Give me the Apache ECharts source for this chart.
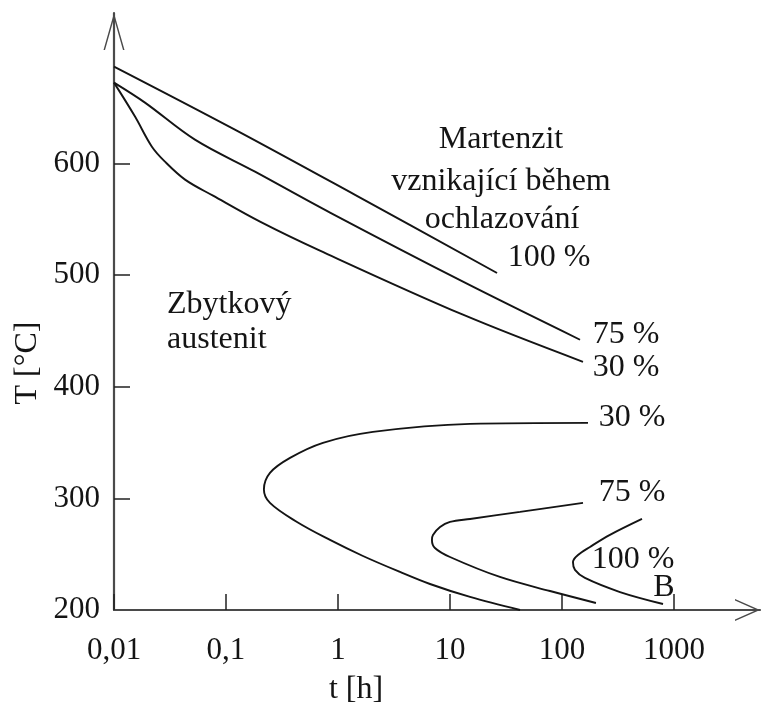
<!DOCTYPE html>
<html>
<head>
<meta charset="utf-8">
<script src="https://cdn.jsdelivr.net/npm/echarts@6/dist/echarts.min.js"></script>
<style>
  html, body { margin: 0; padding: 0; background: #fff; }
  #chart { width: 762px; height: 706px; }
</style>
</head>
<body>
<div id="chart"></div>
<script>
  // axis ticks
  var xTickValues = [0.01, 0.1, 1, 10, 100, 1000];
  var xTickLabels = ['0,01', '0,1', '1', '10', '100', '1000'];
  var yTickValues = [200, 300, 400, 500, 600];

  // martenzit vznikající během ochlazování  [t (h), T (°C)]
  var mart100 = [[0.01, 687], [0.12, 630.5], [1.42, 572], [26.3, 502]];
  var mart75 = [[0.01, 672.6], [0.0189, 654.7], [0.0528, 621.5], [0.1815, 592.8], [0.849, 556.1], [13.06, 494.2], [144.9, 442.2]];
  var mart30 = [[0.01, 672.6], [0.0154, 642.2], [0.0218, 615.2], [0.0285, 601.8], [0.0431, 585.7], [0.0766, 571.3],
                [0.2013, 548.0], [0.69, 522.0], [13.06, 464.6], [154, 422.4]];

  // izotermicke krivky (nosy)
  var bain30 = [[170.6, 367.7], [15.1, 366.8], [2.05, 359.6], [0.734, 349.8], [0.373, 336.3], [0.247, 322.9], [0.218, 308],
                [0.247, 296.0], [0.4306, 278.9], [0.8486, 262.8], [1.671, 248.4], [3.578, 234.1], [6.63, 223.3], [15.1, 211.7], [42.2, 200]];
  var bain75 = [[154, 296.0], [42.2, 287.9], [15.1, 281.6], [10.0, 278.9], [8.15, 274.4], [7.05, 267.3], [6.9, 262.8],
                [7.34, 255.6], [10.0, 247.5], [27.9, 229.6], [78.2, 217.0], [201, 206.3]];
  var bain100 = [[518, 281.6], [268, 267.3], [177.8, 256.5], [139, 249.3], [125.3, 243.0], [130.6, 235.9], [160.3, 228.7],
                 [329.6, 216.1], [798, 205.4]];

  var curves = [mart100, mart75, mart30, bain30, bain75, bain100];

  var FONT = 'Liberation Serif';
  var INK = '#141414';

  var myChart = echarts.init(document.getElementById('chart'));

  var seriesData = [];
  for (var i = 0; i < curves.length; i++) {
    seriesData.push({
      type: 'line',
      data: curves[i],
      showSymbol: false,
      smooth: 0.35,
      lineStyle: { color: INK, width: 1.9 },
      silent: true
    });
  }

  function txt(text, x, y, size, align, rot) {
    return {
      type: 'text',
      x: x,
      y: y,
      rotation: rot || 0,
      style: {
        text: text,
        fill: INK,
        font: size + 'px "' + FONT + '"',
        align: align || 'center',
        verticalAlign: 'middle'
      }
    };
  }

  myChart.setOption({
    animation: false,
    grid: {
      left: 114,
      right: 2,
      top: 13,
      bottom: 96,
      outerBoundsMode: 'none'
    },
    xAxis: {
      type: 'log',
      logBase: 10,
      min: 0.01,
      max: 5861,
      axisLine: {
        show: true,
        symbol: ['none', 'path://M0,0 L11,25 L9.4,25 L0,3.6 L-9.4,25 L-11,25 Z'],
        symbolSize: [22, 25],
        symbolOffset: [0, -12.5],
        lineStyle: { color: '#4a4a4a', width: 2.2 }
      },
      axisTick: {
        show: true,
        inside: true,
        length: 16,
        customValues: xTickValues,
        lineStyle: { color: '#222', width: 1.5 }
      },
      axisLabel: {
        customValues: xTickValues,
        margin: 25,
        color: INK,
        fontFamily: FONT,
        fontSize: 31,
        formatter: function (v) {
          var k = Math.round(Math.log(v) / Math.LN10) + 2;
          return xTickLabels[k];
        }
      },
      splitLine: { show: false }
    },
    yAxis: {
      type: 'value',
      min: 200,
      max: 735,
      interval: 100,
      axisLine: {
        show: true,
        symbol: ['none', 'path://M0,0 L10.5,37 L9,37 L0,5.3 L-9,37 L-10.5,37 Z'],
        symbolSize: [21, 37],
        symbolOffset: [0, -18.5],
        lineStyle: { color: '#4a4a4a', width: 2.2 }
      },
      axisTick: {
        show: true,
        inside: true,
        length: 16,
        customValues: [300, 400, 500, 600],
        lineStyle: { color: '#222', width: 1.5 }
      },
      axisLabel: {
        customValues: yTickValues,
        margin: 14,
        color: INK,
        fontFamily: FONT,
        fontSize: 31
      },
      splitLine: { show: false }
    },
    graphic: [
      txt('Martenzit', 501, 140, 32),
      txt('vznikající během', 501, 182, 32),
      txt('ochlazování', 502, 220, 32),
      txt('100 %', 549, 258, 32),
      txt('75 %', 626, 335, 32),
      txt('30 %', 626, 368, 32),
      txt('30 %', 632, 418, 32),
      txt('75 %', 632, 493, 32),
      txt('100 %', 633, 560, 32),
      txt('B', 664, 588, 32),
      txt('Zbytkový', 167, 305, 32, 'left'),
      txt('austenit', 167, 340, 32, 'left'),
      txt('T [°C]', 28, 363, 32, 'center', Math.PI / 2),
      txt('t [h]', 356, 690, 32)
    ],
    series: seriesData
  });
</script>
</body>
</html>
